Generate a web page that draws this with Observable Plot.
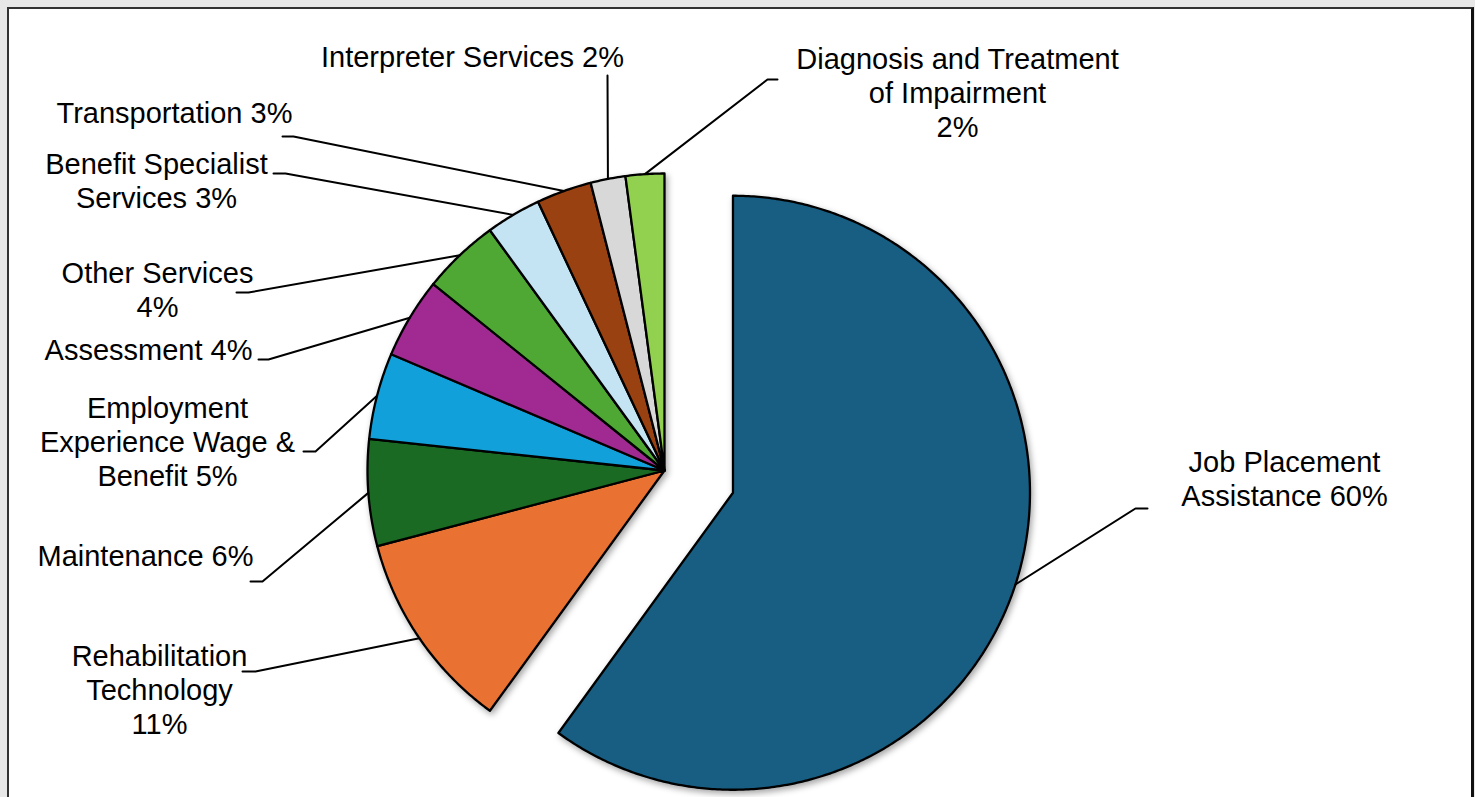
<!DOCTYPE html>
<html><head><meta charset="utf-8">
<script src="https://cdn.jsdelivr.net/npm/d3@7"></script>
<script src="https://cdn.jsdelivr.net/npm/@observablehq/plot@0.6"></script>
<style>
html,body{margin:0;padding:0;background:#e8e8e8;width:1475px;height:797px;overflow:hidden;}
#frame{position:absolute;left:7px;top:7px;width:1462px;height:830px;border:2px solid #333;border-right:3px solid #111;background:#fff;}
#chart{position:absolute;left:0;top:0;}
</style></head><body>
<div id="frame"></div><div id="chart"></div>
<script>
// ---- data ----
const categories = ["Job Placement Assistance", "Rehabilitation Technology", "Maintenance",
  "Employment Experience Wage & Benefit", "Assessment", "Other Services",
  "Benefit Specialist Services", "Transportation", "Interpreter Services",
  "Diagnosis and Treatment of Impairment"];
const shares = [60.0, 10.9, 5.8, 4.7, 4.4, 4.2, 3.0, 3.0, 1.9, 2.1];
const colors = ["#175e82", "#e97232", "#1a6a23", "#11a0d9", "#a02a91", "#4ea833",
  "#c4e4f4", "#9a4112", "#d8d8d8", "#92d050"];
const labelNames = ["Job Placement\nAssistance", "Rehabilitation\nTechnology", "Maintenance",
  "Employment\nExperience Wage &\nBenefit", "Assessment", "Other Services",
  "Benefit Specialist\nServices", "Transportation", "Interpreter Services",
  "Diagnosis and Treatment\nof Impairment"];
const pctSep = [" ", "\n", " ", " ", " ", "\n", " ", " ", " ", "\n"];
const explodeIndex = 0;

// ---- layout (pixels) ----
const CX = 664, CY = 470, R = 297, EXPLODE = 72;
const labelLayout = [
  {x: 1284, y: 505, elbow: [1135, 508], end: [1147, 508]},
  {x: 159,  y: 733, elbow: [255, 671],  end: [242, 671]},
  {x: 145,  y: 565, elbow: [262, 581],  end: [250, 581]},
  {x: 167,  y: 485, elbow: [315, 451],  end: [303, 451]},
  {x: 148,  y: 359, elbow: [268, 359],  end: [258, 359]},
  {x: 157,  y: 316, elbow: [248, 292],  end: [236, 292]},
  {x: 156,  y: 207, elbow: [285, 173],  end: [273, 173]},
  {x: 174,  y: 122, elbow: [293, 136],  end: [282, 136]},
  {x: 472,  y: 66,  elbow: [607, 75],   end: [607, 75]},
  {x: 957,  y: 136, elbow: [767, 79],   end: [777, 79]}
];

// ---- geometry from data ----
const total = d3.sum(shares);
let acc = 0;
const slicePts = [], leaderPts = [], labels = [];
categories.forEach((cat, i) => {
  const a0 = acc / total * 2 * Math.PI;
  acc += shares[i];
  const a1 = acc / total * 2 * Math.PI;
  const am = (a0 + a1) / 2;
  const off = i === explodeIndex ? EXPLODE : 0;
  const cx = CX + off * Math.sin(am), cy = CY - off * Math.cos(am);
  slicePts.push({cat, x: cx, y: cy});
  const n = Math.max(2, Math.ceil((a1 - a0) / (Math.PI / 360)));
  for (let k = 0; k <= n; k++) {
    const a = a0 + (a1 - a0) * k / n;
    slicePts.push({cat, x: cx + R * Math.sin(a), y: cy - R * Math.cos(a)});
  }
  const L = labelLayout[i];
  leaderPts.push({cat, x: cx + R * Math.sin(am), y: cy - R * Math.cos(am)});
  leaderPts.push({cat, x: L.elbow[0], y: L.elbow[1]});
  leaderPts.push({cat, x: L.end[0], y: L.end[1]});
  labels.push({cat, x: L.x, y: L.y,
    text: labelNames[i] + pctSep[i] + Math.round(shares[i] / total * 100) + "%"});
});

const plot = Plot.plot({
  width: 1475, height: 797, margin: 0,
  x: {domain: [0, 1475], range: [0, 1475], axis: null},
  y: {domain: [0, 797], range: [0, 797], axis: null},
  color: {domain: categories, range: colors},
  style: {background: "transparent", overflow: "visible"},
  marks: [
    Plot.line(slicePts, {x: "x", y: "y", z: "cat", fill: "cat", stroke: "black",
      strokeWidth: 2.3, strokeLinejoin: "round", curve: "linear-closed"}),
    Plot.line(leaderPts, {x: "x", y: "y", z: "cat", stroke: "black", strokeWidth: 2}),
    Plot.text(labels, {x: "x", y: "y", text: "text", textAnchor: "middle",
      lineAnchor: "bottom", lineHeight: 1.17, fontSize: 29,
      fontFamily: "'Liberation Sans', Arial, sans-serif", fill: "black"})
  ]
});
const g = plot.querySelector('g[aria-label="line"]');
if (g) g.style.filter = "drop-shadow(2px 3px 3px rgba(0,0,0,0.35))";
document.getElementById("chart").appendChild(plot);
</script>
</body></html>
